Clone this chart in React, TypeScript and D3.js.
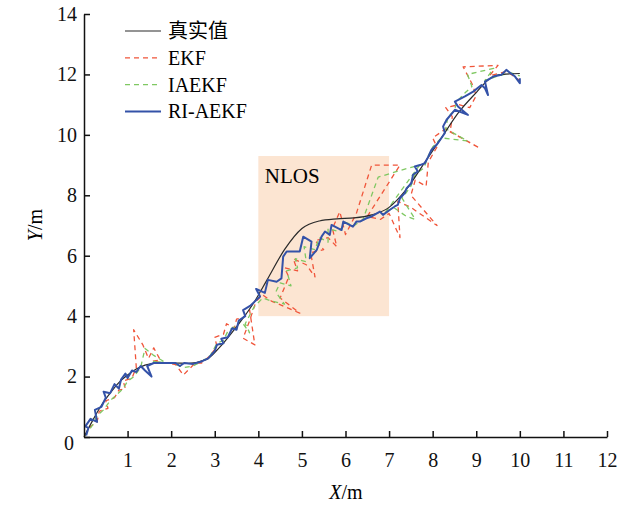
import React, { useRef, useEffect } from "react";
import * as d3 from "d3";

// ground truth trajectory
const truthX = [0, 0.2, 0.4, 0.6, 0.8, 1.0, 1.2, 1.4, 1.7, 2.0, 2.4, 2.8, 3.1, 3.5, 3.9, 4.2, 4.6, 5.0, 5.4, 5.8, 6.2, 6.6, 7.0, 7.4, 7.8, 8.2, 8.6, 9.0, 9.3, 9.6, 10.0];
const truthY = [0, 0.55, 1.05, 1.45, 1.8, 2.05, 2.25, 2.38, 2.45, 2.45, 2.44, 2.56, 2.95, 3.65, 4.45, 5.2, 6.2, 6.9, 7.15, 7.22, 7.25, 7.35, 7.6, 8.2, 9.05, 9.9, 10.75, 11.4, 11.85, 12.0, 12.03];

const ekfX = [0.02, 0.15, 0.3, 0.35, 0.55, 0.5, 0.7, 0.8, 0.95, 0.9, 1.1, 1.2, 1.14, 1.35, 1.48, 1.6, 1.75, 1.55, 1.9, 2.1, 2.28, 2.55, 2.7, 2.9, 3.05, 3.0, 3.2, 3.27, 3.45, 3.5, 3.65, 3.8, 3.92, 3.65, 3.8, 3.95, 4.1, 4.3, 4.95, 4.5, 4.7, 4.6, 4.9, 4.8, 5.1, 5.3, 5.2, 5.5, 5.3, 5.6, 5.8, 5.7, 5.87, 6.0, 6.25, 6.6, 7.25, 6.5, 6.8, 7.0, 7.25, 7.2, 7.5, 8.1, 7.5, 7.6, 7.85, 7.9, 8.1, 8.0, 8.3, 9.08, 8.4, 8.45, 8.3, 8.6, 8.85, 9.0, 8.95, 8.9, 8.7, 9.5, 9.3, 9.7, 9.9, 10.0];
const ekfY = [0.05, 0.35, 0.5, 0.85, 0.95, 1.2, 1.3, 1.55, 1.6, 1.85, 1.95, 2.3, 3.55, 3.05, 2.6, 2.95, 2.55, 2.5, 2.45, 2.4, 2.05, 2.45, 2.45, 2.7, 3.0, 3.3, 3.4, 3.75, 3.6, 3.9, 3.95, 4.2, 3.05, 3.27, 3.85, 4.5, 4.7, 4.5, 4.1, 4.6, 5.3, 5.6, 5.5, 5.9, 5.7, 5.3, 6.1, 6.2, 6.5, 6.6, 6.3, 6.9, 7.46, 6.7, 7.4, 9.0, 9.0, 7.3, 7.2, 7.4, 6.6, 7.8, 7.6, 7.0, 8.0, 8.5, 8.3, 9.1, 9.6, 9.9, 10.2, 9.56, 10.1, 10.6, 10.9, 11.0, 10.9, 11.3, 11.5, 11.7, 12.25, 12.3, 11.95, 12.1, 11.9, 11.8];

const iaekfX = [0.02, 0.2, 0.3, 0.45, 0.6, 0.75, 0.9, 1.0, 1.15, 1.3, 1.4, 1.6, 1.9, 1.6, 2.0, 2.3, 2.5, 2.7, 2.9, 3.05, 3.2, 3.3, 3.5, 3.6, 3.8, 3.7, 3.9, 4.1, 4.3, 4.6, 4.4, 4.5, 4.75, 4.65, 4.9, 4.85, 5.1, 5.05, 5.3, 5.4, 5.6, 5.6, 5.85, 6.0, 6.2, 6.4, 6.75, 7.2, 7.7, 6.9, 7.1, 7.4, 7.6, 7.3, 7.5, 7.6, 7.8, 7.9, 8.0, 8.2, 8.8, 8.3, 8.35, 8.5, 8.55, 8.75, 8.9, 8.8, 9.4, 9.2, 9.5, 9.8, 10.0];
const iaekfY = [0.05, 0.4, 0.7, 0.9, 1.2, 1.4, 1.6, 1.85, 2.0, 2.3, 2.93, 2.7, 2.44, 2.5, 2.45, 2.3, 2.35, 2.5, 2.7, 3.1, 3.2, 3.5, 3.7, 3.85, 3.45, 3.75, 4.3, 4.6, 4.5, 4.4, 4.8, 5.1, 5.0, 5.5, 5.6, 5.9, 5.8, 6.3, 6.2, 6.6, 6.45, 6.9, 6.8, 7.1, 7.0, 7.2, 8.6, 8.8, 9.0, 7.4, 7.6, 7.3, 7.2, 7.9, 8.3, 8.7, 8.9, 9.3, 9.6, 9.9, 9.8, 10.2, 10.6, 10.8, 11.1, 11.4, 11.6, 12.0, 12.2, 11.8, 11.95, 12.05, 11.95];

const riX = [0.05, 0.1, 0.03, 0.15, 0.3, 0.25, 0.4, 0.5, 0.45, 0.6, 0.7, 0.8, 0.85, 0.95, 1.0, 1.1, 1.2, 1.3, 1.4, 1.55, 1.45, 1.6, 1.9, 2.1, 2.2, 2.3, 2.5, 2.7, 2.85, 3.0, 3.05, 3.2, 3.15, 3.3, 3.4, 3.5, 3.55, 3.7, 3.65, 3.81, 4.04, 3.95, 4.15, 4.22, 4.42, 4.53, 4.57, 4.65, 4.95, 5.03, 5.22, 5.18, 5.34, 5.45, 5.53, 5.64, 5.68, 5.91, 5.95, 6.17, 6.25, 6.33, 6.48, 6.6, 6.79, 6.86, 7.02, 7.13, 7.2, 7.25, 7.36, 7.4, 7.51, 7.55, 7.66, 7.59, 7.71, 7.82, 7.9, 7.97, 8.09, 8.17, 8.28, 8.24, 8.32, 8.51, 8.81, 8.58, 8.51, 8.74, 8.93, 9.12, 9.2, 9.27, 9.2, 9.39, 9.58, 9.69, 9.89, 10.0, 10.0];
const riY = [0.05, 0.3, 0.35, 0.6, 0.5, 0.9, 1.0, 1.3, 1.5, 1.45, 1.75, 1.6, 1.9, 2.1, 1.95, 2.2, 2.15, 2.35, 2.2, 2.0, 2.35, 2.45, 2.45, 2.45, 2.35, 2.45, 2.42, 2.5, 2.6, 2.85, 3.05, 3.1, 3.25, 3.3, 3.6, 3.55, 3.85, 4.0, 4.2, 4.34, 4.65, 4.9, 4.77, 5.2, 5.14, 5.25, 5.97, 6.14, 6.14, 6.63, 6.47, 5.92, 6.19, 6.63, 6.8, 6.69, 7.02, 6.85, 7.13, 6.96, 7.13, 7.13, 7.24, 7.3, 7.46, 7.35, 7.52, 7.63, 7.68, 7.9, 8.07, 8.23, 8.4, 8.68, 8.79, 8.95, 9.0, 9.06, 9.28, 9.5, 9.67, 9.83, 10.06, 10.28, 10.5, 10.83, 10.66, 10.94, 11.1, 11.27, 11.43, 11.65, 11.54, 11.32, 11.76, 11.93, 11.99, 12.15, 11.93, 11.71, 11.87];

const xTicks = [1, 2, 3, 4, 5, 6, 7, 8, 9, 10, 11, 12];
const yTicks = [0, 2, 4, 6, 8, 10, 12, 14];
const nlosX = [4, 7];
const nlosY = [4, 9.3];

const legendNames = ["真实值", "EKF", "IAEKF", "RI-AEKF"];
const legendColors = ["#2a2a2a", "#f0553a", "#7fc862", "#3452a8"];
const legendDash = [null, "5,4", "5,4", null];
const legendWidth = [1.2, 1.3, 1.3, 2];

const App = () => {
  const chart = useRef<SVGSVGElement>(null);

  useEffect(() => {
    const svg = d3.select(chart.current);
    svg.selectAll("*").remove();

    const x = d3.scaleLinear().domain([0, 12]).range([84, 607]);
    const y = d3.scaleLinear().domain([0, 14]).range([437, 14]);
    const serif = "'Liberation Serif', 'Times New Roman', 'Noto Sans CJK SC', serif";

    // NLOS area
    svg.append("rect")
      .attr("x", x(nlosX[0]))
      .attr("y", y(nlosY[1]))
      .attr("width", x(nlosX[1]) - x(nlosX[0]))
      .attr("height", y(nlosY[0]) - y(nlosY[1]))
      .attr("fill", "#fce5d2");

    svg.append("text")
      .attr("x", x(4.15))
      .attr("y", y(8.42))
      .attr("font-family", serif)
      .attr("font-size", 21)
      .text("NLOS");

    const series = [
      { xs: ekfX, ys: ekfY, i: 1 },
      { xs: iaekfX, ys: iaekfY, i: 2 },
      { xs: truthX, ys: truthY, i: 0 },
      { xs: riX, ys: riY, i: 3 },
    ];

    series.forEach(s => {
      const pts: [number, number][] = s.xs.map((v, k) => [v, s.ys[k]]);
      const line = s.i === 0
        ? d3.line().x(d => x(d[0])).y(d => y(d[1])).curve(d3.curveMonotoneX)
        : d3.line().x(d => x(d[0])).y(d => y(d[1]));
      svg.append("path")
        .datum(pts)
        .attr("d", line as any)
        .attr("fill", "none")
        .attr("stroke", legendColors[s.i])
        .attr("stroke-width", legendWidth[s.i])
        .attr("stroke-linejoin", "round")
        .attr("stroke-dasharray", legendDash[s.i] ?? null);
    });

    // axes
    const xAxis = svg.append("g")
      .attr("transform", "translate(0," + y(0) + ")")
      .call(d3.axisBottom(x).tickValues(xTicks).tickFormat(d3.format("d")).tickSize(-6).tickSizeOuter(0).tickPadding(16));
    const yAxis = svg.append("g")
      .attr("transform", "translate(" + x(0) + ",0)")
      .call(d3.axisLeft(y).tickValues(yTicks).tickFormat(d3.format("d")).tickSize(-6).tickSizeOuter(0).tickPadding(7));
    [xAxis, yAxis].forEach(g => {
      g.selectAll("path,line").attr("stroke", "#111").attr("stroke-width", 1.5);
      g.selectAll("text").attr("font-family", serif).attr("font-size", 20).attr("fill", "#111");
    });
    yAxis.selectAll("text").filter((d: any) => d === 0).attr("dx", "-3").attr("dy", "0.62em");

    // axis titles
    const xt = svg.append("text")
      .attr("x", 346)
      .attr("y", 499)
      .attr("text-anchor", "middle")
      .attr("font-family", serif)
      .attr("font-size", 20);
    xt.append("tspan").attr("font-style", "italic").text("X");
    xt.append("tspan").text("/m");

    const yt = svg.append("text")
      .attr("transform", "translate(42,225) rotate(-90)")
      .attr("text-anchor", "middle")
      .attr("font-family", serif)
      .attr("font-size", 20);
    yt.append("tspan").attr("font-style", "italic").text("Y");
    yt.append("tspan").text("/m");

    // legend
    const lg = svg.append("g");
    legendNames.forEach((name, i) => {
      const ly = 31 + i * 26.8;
      lg.append("line")
        .attr("x1", 125).attr("x2", 161)
        .attr("y1", ly).attr("y2", ly)
        .attr("stroke", legendColors[i])
        .attr("stroke-width", legendWidth[i])
        .attr("stroke-dasharray", legendDash[i] ?? null);
      lg.append("text")
        .attr("x", 168)
        .attr("y", ly + 7)
        .attr("font-family", serif)
        .attr("font-size", 20)
        .text(name);
    });
  });

  return (
    <svg ref={chart} width={639} height={506} style={{ position: "absolute", left: 0, top: 0, background: "#fff" }} />
  );
};

export default App;
